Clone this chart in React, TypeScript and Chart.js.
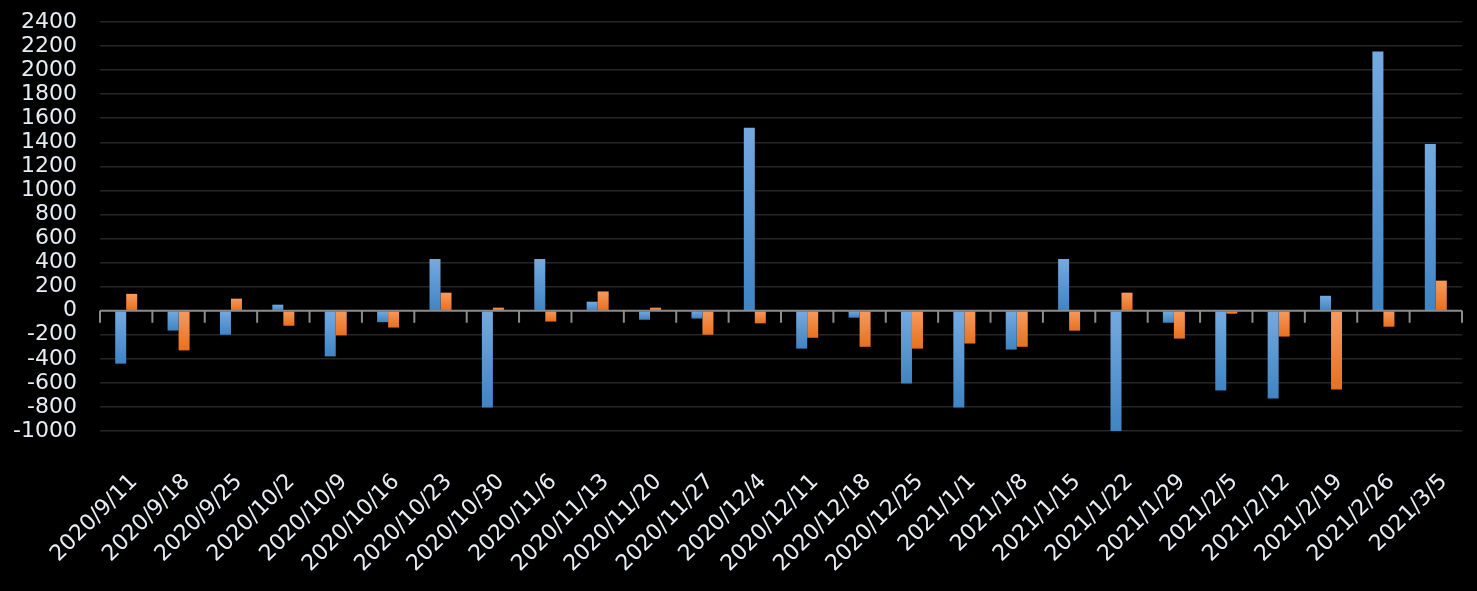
import React, { useEffect, useRef } from 'react';
import { Chart, registerables } from 'chart.js';

Chart.register(...registerables);

const categories = [
  '2020/9/11', '2020/9/18', '2020/9/25', '2020/10/2', '2020/10/9', '2020/10/16',
  '2020/10/23', '2020/10/30', '2020/11/6', '2020/11/13', '2020/11/20', '2020/11/27',
  '2020/12/4', '2020/12/11', '2020/12/18', '2020/12/25', '2021/1/1', '2021/1/8',
  '2021/1/15', '2021/1/22', '2021/1/29', '2021/2/5', '2021/2/12', '2021/2/19',
  '2021/2/26', '2021/3/5',
];

const series1 = [
  -440, -165, -200, 50, -380, -95,
  430, -805, 430, 75, -75, -65,
  1520, -315, -58, -605, -805, -323,
  430, -1000, -100, -663, -730, 124,
  2155, 1385,
];

const series2 = [
  140, -330, 100, -125, -205, -140,
  150, 25, -90, 160, 25, -200,
  -105, -225, -300, -315, -273, -300,
  -166, 150, -232, -25, -215, -655,
  -133, 250,
];

const yMin = -1000;
const yMax = 2400;
const yStep = 200;

const FONT = { family: "'DejaVu Sans', sans-serif", size: 22 };
const LABEL_COLOR = '#e8edf3';

const gradientFill = (light: string, dark: string) => (ctx: any) => {
  const chart = ctx.chart;
  const { chartArea, scales } = chart;
  if (!chartArea || ctx.type !== 'data' || !scales.y) return dark;
  const v = ctx.parsed ? ctx.parsed.y : ctx.raw;
  const y0 = scales.y.getPixelForValue(0);
  const y1 = scales.y.getPixelForValue(v);
  const top = Math.min(y0, y1);
  const bottom = Math.max(y0, y1);
  if (!isFinite(top) || bottom - top < 1) return dark;
  const g = chart.ctx.createLinearGradient(0, top, 0, bottom);
  g.addColorStop(0, light);
  g.addColorStop(1, dark);
  return g;
};

const zeroAxisPlugin = {
  id: 'zeroAxis',
  afterDatasetsDraw(chart: any) {
    const { ctx, scales } = chart;
    const x = scales.x;
    const y = scales.y;
    const y0 = y.getPixelForValue(0);
    ctx.save();
    ctx.strokeStyle = '#8c8c8c';
    ctx.lineWidth = 2;
    ctx.beginPath();
    ctx.moveTo(x.left, y0);
    ctx.lineTo(x.right, y0);
    for (let i = 0; i <= categories.length; i++) {
      const px = x.getPixelForValue(i - 0.5);
      ctx.moveTo(px, y0);
      ctx.lineTo(px, y0 + 12);
    }
    ctx.stroke();
    ctx.restore();
  },
};

export default function App() {
  const ref = useRef<HTMLCanvasElement>(null);

  useEffect(() => {
    const canvas = ref.current;
    if (!canvas) return;
    const chart = new Chart(canvas, {
      type: 'bar',
      data: {
        labels: categories,
        datasets: [
          {
            label: 'Series 1',
            data: series1,
            backgroundColor: gradientFill('#75aae0', '#3f84c4'),
            borderWidth: 0,
            categoryPercentage: 0.42,
            barPercentage: 1,
          },
          {
            label: 'Series 2',
            data: series2,
            backgroundColor: gradientFill('#f79a5e', '#e8701f'),
            borderWidth: 0,
            categoryPercentage: 0.42,
            barPercentage: 1,
          },
        ],
      },
      options: {
        responsive: true,
        maintainAspectRatio: false,
        animation: false,
        layout: { padding: { top: 22, right: 15, left: 0, bottom: 0 } },
        plugins: {
          legend: { display: false },
          tooltip: { enabled: false },
        },
        scales: {
          x: {
            grid: { display: false, drawTicks: false },
            border: { display: false },
            afterFit: (s: any) => {
              s.height = 160;
              s.paddingLeft = 0;
              s.paddingRight = 0;
            },
            ticks: {
              autoSkip: false,
              minRotation: 45,
              maxRotation: 45,
              padding: 38,
              labelOffset: 8,
              color: LABEL_COLOR,
              font: FONT,
            },
          },
          y: {
            min: yMin,
            max: yMax,
            afterFit: (s: any) => {
              s.width = 100;
              s.paddingTop = 0;
              s.paddingBottom = 0;
            },
            border: { display: false },
            grid: {
              drawTicks: false,
              lineWidth: 1.5,
              color: (c: any) => (c.tick && c.tick.value === 0 ? 'rgba(0,0,0,0)' : '#262626'),
            },
            ticks: {
              stepSize: yStep,
              autoSkip: false,
              padding: 23,
              color: LABEL_COLOR,
              font: FONT,
              callback: (v: any) => String(v),
            },
          },
        },
      },
      plugins: [zeroAxisPlugin],
    });
    return () => chart.destroy();
  }, []);

  return (
    <div
      style={{
        position: 'absolute',
        left: 0,
        top: 0,
        width: '1477px',
        height: '591px',
        background: '#000',
      }}
    >
      <canvas ref={ref} />
    </div>
  );
}
